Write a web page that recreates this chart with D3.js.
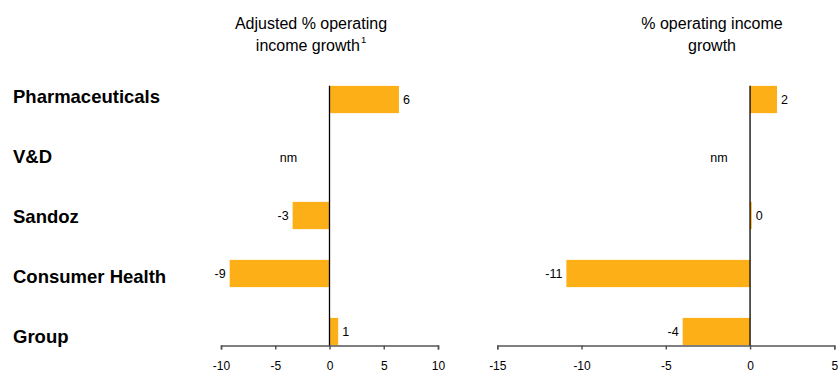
<!DOCTYPE html>
<html>
<head>
<meta charset="utf-8">
<script src="https://cdn.jsdelivr.net/npm/d3@7/dist/d3.min.js"></script>
<style>
  html, body { margin: 0; padding: 0; background: #fff; }
  svg { display: block; font-family: "Liberation Sans", Arial, sans-serif; }
</style>
</head>
<body>
<svg id="chart" width="839" height="372"></svg>
<script>
// Segments, top to bottom
const categories = ["Pharmaceuticals", "V&D", "Sandoz", "Consumer Health", "Group"];
// Adjusted % operating income growth (null = not meaningful)
const adjustedGrowth = [6.4, null, -3.4, -9.2, 0.8];
// % operating income growth
const reportedGrowth = [1.6, null, 0.1, -10.9, -4.0];
// Axis ticks
const leftTicks = [-10, -5, 0, 5, 10];
const rightTicks = [-15, -10, -5, 0, 5];

const svg = d3.select("#chart");
const barColor = "#fcaf17";
// Whole numbers with a plain hyphen for negatives
const fmt = v => d3.format(".0f")(v).replace("\u2212", "-");

const y = d3.scaleBand()
  .domain(categories)
  .range([70.5, 360.5])
  .paddingInner(0.53)
  .paddingOuter(0.265);

// Row labels sit on their own, slightly wider spacing
const yLabel = d3.scalePoint()
  .domain(categories)
  .range([96.5, 337]);

// Category labels
svg.append("g").selectAll("text")
  .data(categories)
  .join("text")
  .attr("x", 13)
  .attr("y", d => yLabel(d))
  .attr("dy", "0.35em")
  .attr("font-size", 18.5)
  .attr("font-weight", "bold")
  .attr("fill", "#000")
  .text(d => d);

function panel(values, ticks, range, titleLines, titleX, nmOffset, superscript) {
  const x = d3.scaleLinear().domain([ticks[0], ticks[ticks.length - 1]]).range(range);
  const g = svg.append("g");
  const axisY = y.range()[1] - 15;

  // Title
  const title = g.append("text")
    .attr("text-anchor", "middle")
    .attr("font-size", 16)
    .attr("fill", "#000");
  titleLines.forEach((line, i) => {
    title.append("tspan")
      .attr("x", titleX)
      .attr("y", 29 + i * 22)
      .text(line);
    if (superscript && i === titleLines.length - 1) {
      title.append("tspan")
        .attr("font-size", 9.5)
        .attr("dx", 1)
        .attr("dy", -8)
        .text(superscript);
    }
  });

  const rows = categories.map((c, i) => ({ c, v: values[i] }));

  // Bars
  g.append("g").selectAll("rect")
    .data(rows.filter(d => d.v !== null))
    .join("rect")
    .attr("x", d => x(Math.min(0, d.v)))
    .attr("y", d => y(d.c))
    .attr("width", d => Math.abs(x(d.v) - x(0)))
    .attr("height", y.bandwidth())
    .attr("fill", barColor);

  // Value labels
  g.append("g").selectAll("text")
    .data(rows)
    .join("text")
    .attr("x", d => d.v === null ? x(0) - nmOffset : (d.v >= 0 ? x(d.v) + 4 : x(d.v) - 4))
    .attr("y", d => y(d.c) + y.bandwidth() / 2)
    .attr("dy", "0.35em")
    .attr("text-anchor", d => d.v === null ? "middle" : (d.v >= 0 ? "start" : "end"))
    .attr("font-size", 12.5)
    .attr("fill", "#000")
    .text(d => d.v === null ? "nm" : fmt(d.v));

  // Bottom axis
  const axis = g.append("g")
    .attr("transform", `translate(0,${axisY})`)
    .call(d3.axisBottom(x).tickValues(ticks).tickSize(4).tickPadding(12).tickFormat(fmt));
  axis.select(".domain").attr("stroke", "#555").attr("stroke-width", 1.5);
  axis.selectAll(".tick line").attr("stroke", "#555").attr("stroke-width", 1.5);
  axis.selectAll(".tick text")
    .attr("font-family", "Liberation Sans, Arial, sans-serif")
    .attr("font-size", 12)
    .attr("fill", "#000");

  // Zero line
  g.append("line")
    .attr("x1", x(0)).attr("x2", x(0))
    .attr("y1", y(categories[0])).attr("y2", axisY)
    .attr("stroke", "#000")
    .attr("stroke-width", 1.3);
}

panel(adjustedGrowth, leftTicks, [221, 438], ["Adjusted % operating", "income growth"], 311, 41, "1");
panel(reportedGrowth, rightTicks, [497.3, 834.3], ["% operating income", "growth"], 712, 31, null);
</script>
</body>
</html>
